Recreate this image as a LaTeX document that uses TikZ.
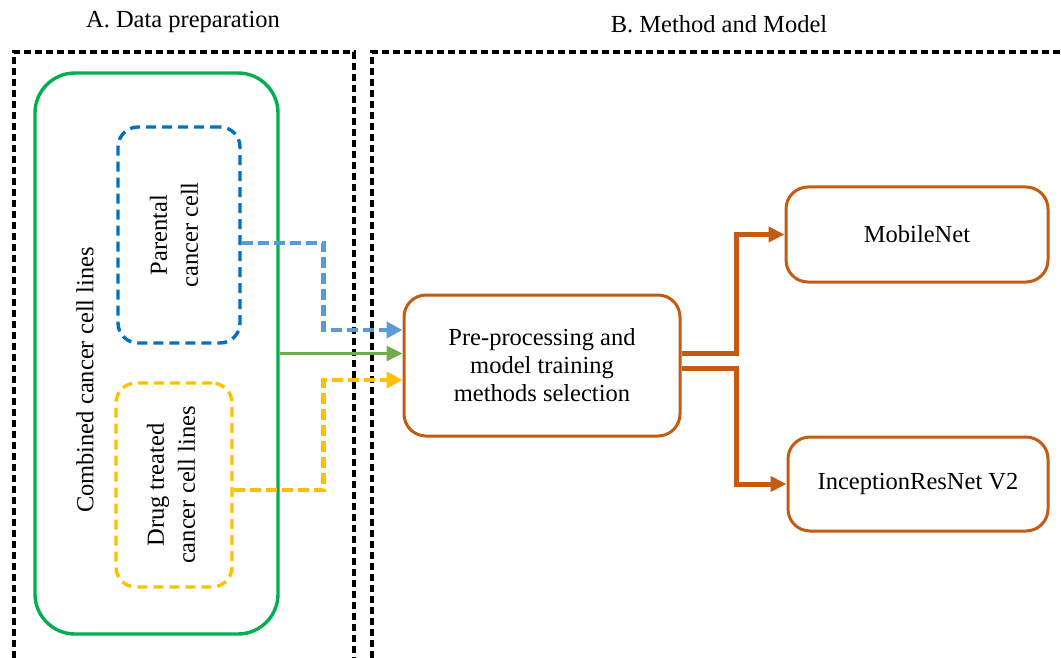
\documentclass[tikz,border=0pt]{standalone}
\usepackage{fontspec}
\setmainfont{Liberation Serif}
\usetikzlibrary{arrows.meta, positioning, calc}
\definecolor{cellGreen}{HTML}{00B050}
\definecolor{cellBlue}{HTML}{0070C0}
\definecolor{cellYellow}{HTML}{FFC000}
\definecolor{lineBlue}{HTML}{5B9BD5}
\definecolor{lineGreen}{HTML}{70AD47}
\definecolor{modelOrange}{HTML}{C55A11}
\tikzset{
  panelLine/.style={draw=black, line width=3.2pt, dash pattern=on 7pt off 4pt},
  boxCombined/.style={rectangle, rounded corners=40pt, draw=cellGreen, line width=3.4pt,
                      minimum width=243pt, minimum height=561pt},
  boxParent/.style={rectangle, rounded corners=20pt, draw=cellBlue, line width=3.4pt,
                    dash pattern=on 10pt off 6pt, minimum width=122pt, minimum height=216pt},
  boxDrug/.style={rectangle, rounded corners=20pt, draw=cellYellow, line width=3.4pt,
                  dash pattern=on 10pt off 6pt, minimum width=116pt, minimum height=204pt},
  boxModel/.style={rectangle, rounded corners=22pt, draw=modelOrange, line width=3pt,
                   align=center},
  cellText/.style={rotate=90, align=center, font=\fontsize{24.5}{31}\selectfont},
  arrowB/.style={-{Triangle[length=16pt,width=16pt]}, lineBlue, line width=4.6pt,
                 dash pattern=on 11pt off 5pt},
  arrowY/.style={-{Triangle[length=16pt,width=16pt]}, cellYellow, line width=4.6pt,
                 dash pattern=on 11pt off 5pt},
  arrowG/.style={-{Triangle[length=16pt,width=15pt]}, lineGreen, line width=3.2pt},
  arrowO/.style={-{Triangle[length=16pt,width=15pt]}, modelOrange, line width=5pt},
}
\begin{document}
\begin{tikzpicture}[x=1pt, y=-1pt, font=\fontsize{24.5}{28}\selectfont]
    \useasboundingbox (0,0) rectangle (1061,658);
    \draw[panelLine] (14,680) -- (14,52) -- (354,52) -- (354,680);
    \draw[panelLine] (372,680) -- (372,52) -- (1070,52);
    \node (titleA) at (183,22) {A. Data preparation};
    \node (titleB) at (719,24) {B. Method and Model};
    \node[boxCombined] (cmb) at (156.5,353.5) {};
    \node[rotate=90] (cmbText) at (85,380) {Combined cancer cell lines};
    \node[boxParent, label={[xshift=-5pt, cellText]center:Parental\\cancer cell}]
          (par) at (179,235) {};
    \node[boxDrug, label={[xshift=-3pt, cellText]center:Drug treated\\cancer cell lines}]
          (drug) at (174,485) {};
    \node[boxModel, minimum width=276pt, minimum height=141pt] (pre) at (542,365.5)
          {Pre-processing and\\model training\\methods selection};
    \node[boxModel, minimum width=262pt, minimum height=95pt] (mob) at (917,234.5) {MobileNet};
    \node[boxModel, minimum width=260pt, minimum height=94pt] (inc) at (918,484)
          {InceptionResNet V2};
    \draw[arrowB] ([yshift=-8pt]par.east) -- ++(82,0) |- ([yshift=35.5pt]pre.west);
    \draw[arrowG] (cmb.east) -- (cmb.east -| pre.west);
    \draw[arrowY] ([yshift=-5pt]drug.east) -- ++(90,0) |- ([yshift=-14.5pt]pre.west);
    \draw[arrowO] ([yshift=12.5pt]pre.east) -- ++(55,0) |- (mob.west);
    \draw[arrowO] ([yshift=-2.5pt]pre.east) -- ++(55,0) |- (inc.west);
  \end{tikzpicture}
\end{document}
